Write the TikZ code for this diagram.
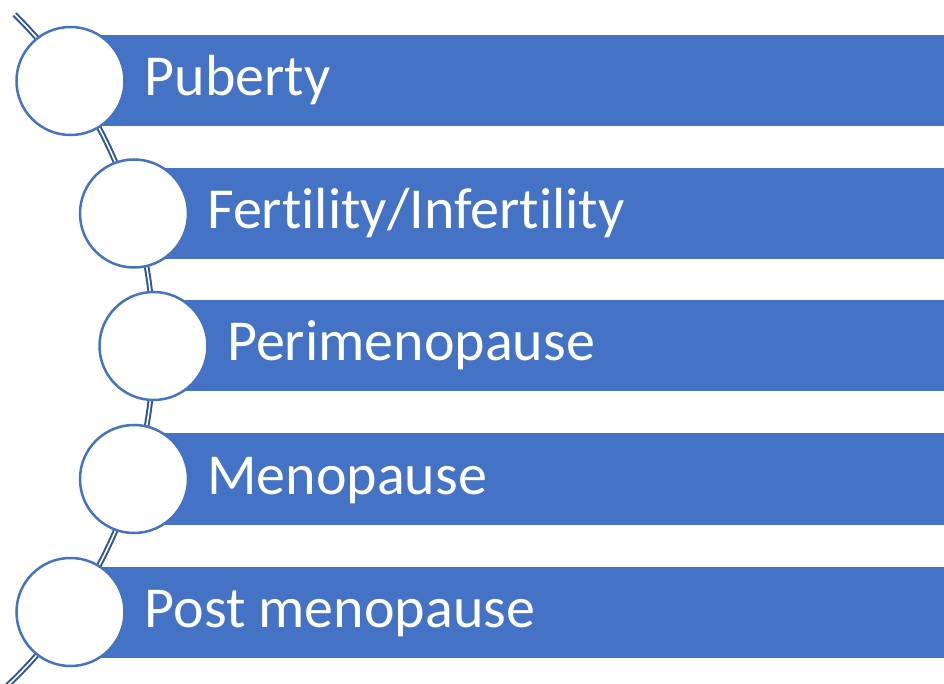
\documentclass[tikz,border=0pt]{standalone}
\usepackage{fontspec}
\setmainfont{Carlito}[Ligatures=NoCommon]
\usetikzlibrary{calc,positioning}
\definecolor{officeBlue}{RGB}{68,114,196}
\definecolor{spineBlue}{RGB}{47,85,151}
\tikzset{
  stage/.style={circle, draw=officeBlue, line width=2.5pt, fill=white, minimum size=108pt, inner sep=0pt},
  stagebar/.style={fill=officeBlue},
  stagetext/.style={text=white, font=\fontsize{58}{63}\selectfont, inner sep=0pt, anchor=base west},
  spine/.style={draw=spineBlue, double=white, line width=2pt, double distance=1.6pt}
}

\begin{document}
\begin{tikzpicture}[x=1pt,y=1pt]
    \useasboundingbox (0,0) rectangle (944,683);
    \clip (0,0) rectangle (944,683);
    % centres of the stage circles
    \coordinate (p1) at (70.5,602);
    \coordinate (p2) at (134,469.5);
    \coordinate (p3) at (153.5,337);
    \coordinate (p4) at (134,204);
    \coordinate (p5) at (70.5,71);
    \coordinate (hub) at (-313,336.5);
    \coordinate (top) at ($(hub)+(45.4:466.5)$);
    % bars
    \fill[stagebar] ($(p1)+(0,-45.5)$) rectangle ($(p1)+(900,45.5)$);
    \fill[stagebar] ($(p2)+(0,-45.5)$) rectangle ($(p2)+(900,45.5)$);
    \fill[stagebar] ($(p3)+(0,-45.5)$) rectangle ($(p3)+(900,45.5)$);
    \fill[stagebar] ($(p4)+(0,-45.5)$) rectangle ($(p4)+(900,45.5)$);
    \fill[stagebar] ($(p5)+(0,-45.5)$) rectangle ($(p5)+(900,45.5)$);
    % spine
    \draw[spine] (top) arc[start angle=45.4, end angle=-47, radius=466.5];
    % circles
    \node[stage] (c1) at (p1) {};
    \node[stage] (c2) at (p2) {};
    \node[stage] (c3) at (p3) {};
    \node[stage] (c4) at (p4) {};
    \node[stage] (c5) at (p5) {};
    % texts
    \node[stagetext] (t1) at ([xshift=74pt,yshift=-15pt]c1.center) {Puberty};
    \node[stagetext] (t2) at ([xshift=73pt,yshift=-15pt]c2.center) {Fertility/Infertility};
    \node[stagetext] (t3) at ([xshift=73.5pt,yshift=-15pt]c3.center) {Perimenopause};
    \node[stagetext] (t4) at ([xshift=73pt,yshift=-15pt]c4.center) {Menopause};
    \node[stagetext] (t5) at ([xshift=74pt,yshift=-15pt]c5.center) {Post menopause};
\end{tikzpicture}
\end{document}
